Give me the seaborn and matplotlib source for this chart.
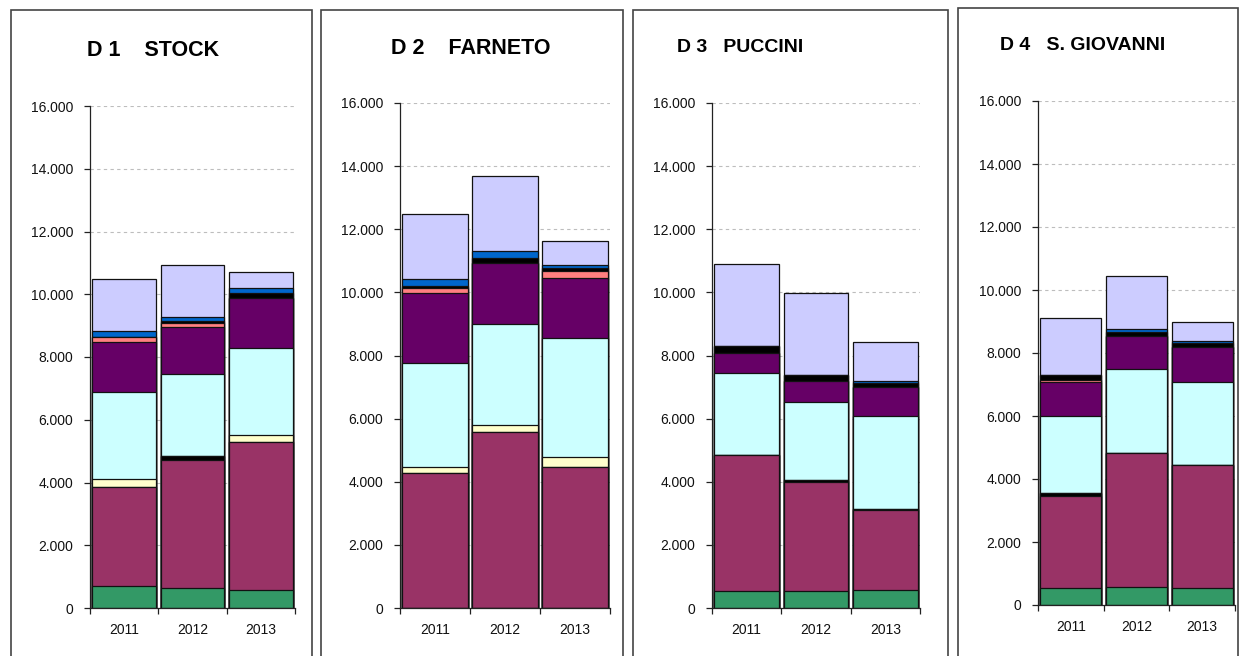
import matplotlib
matplotlib.use("Agg")
import matplotlib.pyplot as plt
from matplotlib.patches import Rectangle
from matplotlib.ticker import FuncFormatter, FixedLocator
import seaborn as sns
import pandas as pd

# ---------------- data ----------------
panels = ["D 1    STOCK", "D 2    FARNETO", "D 3   PUCCINI", "D 4   S. GIOVANNI"]
years = ["2011", "2012", "2013"]

# each list: 4 panels x 3 years (D1 2011..2013, D2 ..., D3 ..., D4 ...)
green    = [690, 640, 580,    0,    0,    0,  530,  530,  580,  530,  560,  530]
maroon   = [3180, 4080, 4720, 4290, 5590, 4480, 4330, 3460, 2510, 2930, 4250, 3910]
dark_low = [0, 130, 0,        0,    0,    0,    0,   50,   50,   80,    0,    0]
yellow   = [240, 0, 200,      190,  210,  320,    0,    0,    0,    0,    0,    0]
cyan     = [2760, 2610, 2780, 3290, 3200, 3740, 2580, 2480, 2930, 2470, 2670, 2650]
purple   = [1620, 1510, 1610, 2220, 1920, 1900,  640,  660,  920, 1080, 1060, 1090]
salmon   = [140, 120, 0,      160,    0,  230,    0,    0,    0,   50,    0,    0]
dark_up  = [0, 60, 140,       50,  160,   90,  210,  190,  140,  160,  140,  150]
blue     = [210, 140, 160,    210,  230,  110,    0,    0,   50,    0,   70,   60]
lavender = [1650, 1650, 520,  2060, 2380,  770, 2620, 2610, 1260, 1800, 1690,  600]

series_names = ["green", "maroon", "dark_low", "yellow", "cyan", "purple",
                "salmon", "dark_up", "blue", "lavender"]
series_values = [green, maroon, dark_low, yellow, cyan, purple,
                 salmon, dark_up, blue, lavender]
series_colors = ["#339966", "#993366", "#000000", "#FFFFCC", "#CCFFFF",
                 "#660066", "#FF8080", "#000000", "#0066CC", "#CCCCFF"]

# ---------------- layout (pixels) ----------------
W, H = 1243, 656
axes_px = [  # left, right, y_top(16000), y_zero  (from top)
    (90, 295, 106, 608),
    (400, 610, 103, 608),
    (712, 920, 103, 608),
    (1038, 1235, 101, 605),
]
title_px = [(153, 50), (471, 48), (740, 48), (1083, 46)]
title_size = [15.5, 15.5, 14, 14]
boxes_px = [(11, 312, 10), (321, 623, 10), (633, 948, 10), (958, 1238, 8)]

sns.set_style("white")
plt.rcParams["font.family"] = ["Liberation Sans", "DejaVu Sans"]

fig = plt.figure(figsize=(W / 100, H / 100), dpi=100)
fig.patch.set_facecolor("white")

fmt = FuncFormatter(lambda v, p: f"{int(round(v)):,}".replace(",", "."))

for pi, name in enumerate(panels):
    l, r, yt, y0 = axes_px[pi]
    ax = fig.add_axes([l / W, 1 - y0 / H, (r - l) / W, (y0 - yt) / H])
    rows = {"year": years}
    cum = [0, 0, 0]
    for sname, vals in zip(series_names, series_values):
        seg = vals[pi * 3: pi * 3 + 3]
        cum = [c + s for c, s in zip(cum, seg)]
        rows[sname] = cum
    df = pd.DataFrame(rows)
    # draw cumulative bars from top series down
    for sname, col in reversed(list(zip(series_names, series_colors))):
        sns.barplot(data=df, x="year", y=sname, color=col, saturation=1,
                    width=0.93, edgecolor="#111111", linewidth=0.9,
                    errorbar=None, ax=ax, zorder=2)
    ax.set_xlabel("")
    ax.set_ylabel("")
    ax.set_xlim(-0.5, 2.5)
    ax.set_ylim(0, 16000)
    ax.set_yticks(range(0, 16001, 2000))
    ax.yaxis.set_major_formatter(fmt)
    ax.yaxis.grid(True, linestyle=(0, (3, 3)), color="#bdbdbd", linewidth=0.8, zorder=0)
    ax.set_axisbelow(True)
    for s in ["top", "right"]:
        ax.spines[s].set_visible(False)
    for s in ["left", "bottom"]:
        ax.spines[s].set_color("#222222")
        ax.spines[s].set_linewidth(0.9)
    ax.tick_params(axis="y", which="major", direction="out", length=4, width=0.9,
                   color="#222222", labelsize=10, pad=8, left=True)
    ax.tick_params(axis="x", which="major", length=0, labelsize=10, pad=11)
    ax.xaxis.set_minor_locator(FixedLocator([-0.5, 0.5, 1.5, 2.5]))
    ax.tick_params(axis="x", which="minor", direction="out", length=4, width=0.9,
                   color="#222222", bottom=True)
    for lab in ax.get_xticklabels() + ax.get_yticklabels():
        lab.set_color("#111111")

    tx, ty = title_px[pi]
    fig.text(tx / W, 1 - ty / H, name, ha="center", va="center",
             fontsize=title_size[pi], fontweight="bold", color="black")

    bl, br, bt = boxes_px[pi]
    fig.add_artist(Rectangle((bl / W, -0.05), (br - bl) / W, 1 - bt / H + 0.05,
                             transform=fig.transFigure, fill=False,
                             edgecolor="#444444", linewidth=1.2))

fig.savefig("out.png", dpi=100, facecolor="white")
